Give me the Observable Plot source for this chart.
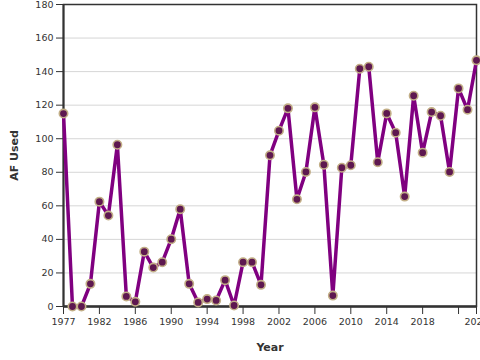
<!DOCTYPE html>
<html><head><meta charset="utf-8">
<script src="https://cdn.jsdelivr.net/npm/d3@7"></script>
<script src="https://cdn.jsdelivr.net/npm/@observablehq/plot@0.6"></script>
<style>
body{margin:0;background:#fff;overflow:hidden}
#chart svg{font-family:"DejaVu Sans",sans-serif;overflow:visible}
</style>
</head><body><div id="chart"></div>
<script>
const years = [1977,1978,1979,1980,1981,1982,1983,1984,1985,1986,1987,1988,1989,1990,1991,1992,1993,1994,1995,1996,1997,1998,1999,2000,2001,2002,2003,2004,2005,2006,2007,2008,2009,2010,2011,2012,2013,2014,2015,2016,2017,2018,2019,2020,2021,2022,2023];
const afUsed = [115,0,0,13.5,62.5,54.2,96.4,6,2.8,32.7,23.2,26.4,40.1,58,13.5,2.4,4.4,3.6,15.7,0.6,26.4,26.4,12.9,90.1,104.8,118.1,63.9,80.2,118.7,84.5,6.5,82.7,84.2,141.7,142.9,86,115.1,103.6,65.5,125.6,91.7,115.9,113.7,80.2,130,117.3,146.7];
const yTicks = [0,20,40,60,80,100,120,140,160,180];
const xTickPositions = [1977,1981,1985,1989,1993,1997,2001,2005,2009,2013,2017,2021,2023];
const xTickLabels = ["1977","1982","1986","1990","1994","1998","2002","2006","2010","2014","2018","","2023"];

const data = years.map((y, i) => ({year: y, af: afUsed[i]}));

const chart = Plot.plot({
  width: 480,
  height: 360,
  marginLeft: 63,
  marginRight: 4,
  marginTop: 4,
  marginBottom: 54,
  style: {fontSize: "9.5px", color: "#333", background: "#fff"},
  x: {domain: [1977, 2023]},
  y: {domain: [0, 180]},
  marks: [
    Plot.gridY(yTicks, {stroke: "#d6d6d6", strokeOpacity: 1, strokeWidth: 1}),
    Plot.frame({stroke: "#333", strokeWidth: 1.5}),
    Plot.axisY({ticks: yTicks, tickSize: 7, tickPadding: 3, stroke: "#333", label: "AF Used", labelAnchor: "center", labelArrow: "none", labelOffset: 53}),
    Plot.axisX({ticks: xTickPositions, tickFormat: (d, i) => xTickLabels[xTickPositions.indexOf(d)], tickSize: 8, tickPadding: 4, stroke: "#333", label: "Year", labelAnchor: "center", labelArrow: "none", labelOffset: 44}),
    Plot.ruleY([0], {stroke: "#333", strokeWidth: 2.5}),
    Plot.ruleX([1977], {stroke: "#333", strokeWidth: 2}),
    Plot.line(data, {x: "year", y: "af", stroke: "#800080", strokeWidth: 3.5}),
    Plot.dot(data, {x: "year", y: "af", r: 4.2, fill: "#5e1850", stroke: "#c2ae86", strokeWidth: 1.6})
  ]
});
document.getElementById("chart").appendChild(chart);
d3.select(chart).selectAll('[aria-label$="axis label"] text')
  .attr("font-weight", "bold").attr("font-size", 11).attr("fill", "#333");
</script>
</body></html>
